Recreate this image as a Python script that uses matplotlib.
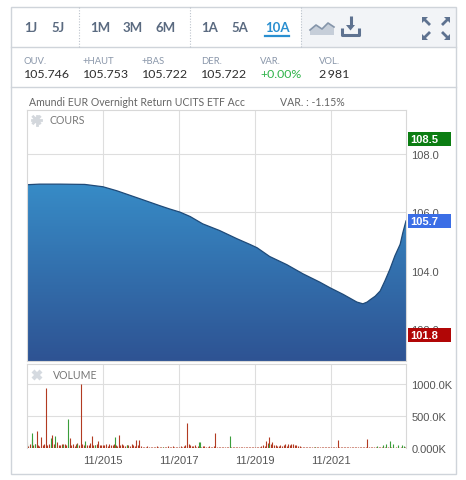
import matplotlib
matplotlib.use("Agg")
import matplotlib.pyplot as plt
import matplotlib.dates as mdates
from matplotlib.colors import LinearSegmentedColormap
from matplotlib.patches import Rectangle, Polygon
import numpy as np
import pandas as pd

W, H = 466, 481

# price curve
price_dates = ["2013-11-01", "2014-03-01", "2014-09-15", "2015-05-10", "2015-11-01",
               "2016-03-15", "2016-10-20", "2017-05-01", "2017-08-01", "2017-11-10",
               "2018-02-15", "2018-06-15", "2018-11-25", "2019-05-10", "2019-09-15",
               "2019-11-20", "2020-03-20", "2020-09-01", "2021-02-01", "2021-07-15",
               "2021-10-20", "2022-02-25", "2022-07-05", "2022-09-01", "2022-10-12",
               "2022-11-10", "2022-12-28", "2023-02-14", "2023-04-01", "2023-05-19",
               "2023-07-05", "2023-08-25", "2023-09-20", "2023-10-20"]
price_values = [106.94, 106.96, 106.96, 106.95, 106.87,
                106.73, 106.46, 106.22, 106.11, 106.00,
                105.85, 105.60, 105.37, 105.09, 104.89,
                104.78, 104.48, 104.20, 103.89, 103.60,
                103.41, 103.18, 102.92, 102.86, 102.92,
                103.00, 103.12, 103.30, 103.65, 104.05,
                104.50, 104.90, 105.30, 105.70]

# volume, in thousands: red bars twice a month from Nov 2013
vol_start = "2013-11-01"
vol_red = [45, 30, 55, 140, 40, 60, 265, 50, 30, 170, 45, 60, 940, 50, 70, 40, 200, 55, 35, 90, 50, 40, 70, 55,
           60, 40, 50, 150, 45, 70, 35, 55, 80, 40, 1000, 60, 45, 70, 50, 40, 85, 185, 50, 40, 60, 110, 50, 45,
           50, 40, 55, 35, 60, 45, 40, 70, 50, 35, 200, 45, 60, 40, 30, 50, 45, 35, 55, 40, 30, 125, 40, 125,
           25, 15, 20, 10, 30, 15, 20, 12, 8, 15, 25, 10, 12, 20, 8, 15, 10, 30, 12, 18, 25, 10, 15, 20,
           20, 30, 15, 25, 40, 390, 60, 45, 30, 25, 50, 20, 35, 15, 20, 30, 25, 15, 20, 30, 15, 20, 25, 240,
           15, 10, 20, 12, 15, 10, 8, 15, 12, 20, 10, 15, 8, 12, 10, 18, 8, 10, 12, 15, 10, 8, 12, 15,
           15, 20, 12, 18, 25, 40, 35, 110, 80, 170, 60, 90, 45, 50, 30, 25, 40, 30, 45, 55, 35, 60, 40, 55,
           60, 45, 50, 35, 25, 20, 15, 20, 12, 15, 10, 8, 12, 10, 15, 8, 10, 12, 8, 10, 15, 10, 12, 8,
           10, 8, 12, 15, 125, 10, 8, 12, 10, 15, 8, 10, 12, 8, 10, 15, 12, 10, 8, 10, 12, 15, 10, 140,
           10, 8, 12, 10, 15, 8, 10, 12, 8, 10, 8, 10, 12, 8, 10, 8, 5, 8, 10, 5, 8, 6, 5, 8]
vol_green_dates = ["2013-11-05", "2013-12-18", "2014-01-20", "2014-06-15", "2014-07-25", "2014-10-10",
                   "2014-12-01", "2015-03-01", "2015-05-10", "2015-08-20", "2016-02-25", "2016-06-15",
                   "2017-06-01", "2018-05-15", "2018-05-25", "2019-03-05", "2020-03-10", "2021-06-01",
                   "2023-01-15", "2023-03-10", "2023-04-10", "2023-05-20", "2023-06-20", "2023-08-01",
                   "2023-09-10", "2023-10-05"]
vol_green = [95, 235, 60, 155, 185, 50, 450, 60, 110, 50, 170, 50,
             20, 90, 95, 190, 60, 15, 25, 45, 60, 110, 70, 45, 40, 30]

price_ticks = [102, 104, 106, 108]
vol_ticks = [0, 500, 1000]
vol_tick_labels = ["0.000K", "500.0K", "1000.0K"]
date_ticks = ["2015-11-01", "2017-11-01", "2019-11-01", "2021-11-01"]
date_tick_labels = ["11/2015", "11/2017", "11/2019", "11/2021"]
badges = [(108.5, "#0b7d12"), (105.7, "#3b6ee6"), (101.8, "#b10606")]

periods = [("1J", 31), ("5J", 58), ("1M", 100), ("3M", 133), ("6M", 166),
           ("1A", 210), ("5A", 240), ("10A", 277)]
stats = [("OUV.", "105.746", 24), ("+HAUT", "105.753", 83), ("+BAS", "105.722", 142),
         ("DER.", "105.722", 201), ("VAR.", "+0.00%", 260), ("VOL.", "2\u2009981", 319)]

title = "Amundi EUR Overnight Return UCITS ETF Acc"
var_text = "VAR. : -1.15%"

UI = ["Lato", "DejaVu Sans"]
AXF = ["Liberation Sans", "DejaVu Sans"]
ICON = "#5e7290"


def box(x0, y0, x1, y1):
    return [x0 / W, 1 - y1 / H, (x1 - x0) / W, (y1 - y0) / H]


def pixel_axes(z):
    a = fig.add_axes([0, 0, 1, 1], zorder=z)
    a.set_xlim(0, W)
    a.set_ylim(H, 0)
    a.axis("off")
    return a


fig = plt.figure(figsize=(W / 100, H / 100), dpi=100)

# page furniture drawn in pixel coordinates
ui = pixel_axes(0)

ui.add_patch(Rectangle((301, 8), 155, 40, facecolor="#f2f4f7", edgecolor="none"))
ui.add_patch(Rectangle((11, 8), 445, 467, facecolor="none", edgecolor="#cfd4da", lw=1))
ui.plot([11, 456], [48, 48], color="#cfd4da", lw=1)
ui.plot([11, 456], [88, 88], color="#cfd4da", lw=1)
for sx in [79, 190, 301]:
    ui.plot([sx, sx], [8, 48], color="#bcc3cc", lw=0.8, ls=(0, (1, 1.5)))

for lab, cx in periods:
    col = "#2a8fd0" if lab == "10A" else "#5a6a80"
    ui.text(cx, 28, lab, ha="center", va="center", fontsize=9.5, fontweight="bold",
            color=col, family=UI)
ui.plot([265, 289], [37, 37], color="#2a8fd0", lw=1.6)

# area chart icon
ui.add_patch(Polygon([(310, 36), (310, 31), (316, 26), (322, 30), (328, 24), (334, 28), (334, 36)],
                     closed=True, facecolor="#c6ced9", edgecolor="none"))
ui.plot([310, 316, 322, 328, 334], [31, 26, 30, 24, 28], color="#8595aa", lw=1.2)
# download icon
ui.plot([342, 342, 359, 359], [29, 36, 36, 29], color=ICON, lw=2.2, solid_capstyle="butt")
ui.plot([350.5, 350.5], [17, 27], color=ICON, lw=2.2, solid_capstyle="butt")
ui.add_patch(Polygon([(346, 26), (355, 26), (350.5, 31.5)], closed=True, facecolor=ICON, edgecolor="none"))
# expand icon: corner heads with short diagonal shafts
for cx, cy, dx, dy in [(422, 18, 1, 1), (450, 18, -1, 1), (422, 41, 1, -1), (450, 41, -1, -1)]:
    ui.add_patch(Polygon([(cx, cy), (cx + 6 * dx, cy), (cx, cy + 6 * dy)], closed=True,
                         facecolor=ICON, edgecolor="none"))
    ui.plot([cx + 2 * dx, cx + 8 * dx], [cy + 2 * dy, cy + 8 * dy], color=ICON, lw=2,
            solid_capstyle="butt")

for lab, val, x0 in stats:
    ui.text(x0, 61, lab, ha="left", va="center", fontsize=6.8, color="#8a97aa", family=UI)
    vcol = "#2fb34a" if lab == "VAR." else "#2e2e2e"
    ui.text(x0, 74, val, ha="left", va="center", fontsize=8.9, color=vcol, family=UI)

ui.text(29, 102, title, ha="left", va="center", fontsize=7.6, color="#666666", family=UI)
ui.text(280, 102, var_text, ha="left", va="center", fontsize=7.6, color="#666666", family=UI)

# price panel
ax = fig.add_axes(box(27, 111, 406, 362), zorder=1)
t = pd.to_datetime(price_dates)
xlo = mdates.date2num(pd.Timestamp("2013-11-01"))
xhi = mdates.date2num(pd.Timestamp("2023-10-20"))
ylo, yhi = 100.9, 109.5

cmap = LinearSegmentedColormap.from_list("fill", ["#3ba3dc", "#2e5393"])
fill = ax.fill_between(t, price_values, ylo, facecolor="none", edgecolor="none")
grad = ax.imshow(np.linspace(0, 1, 256).reshape(-1, 1), cmap=cmap, aspect="auto",
                 extent=[xlo, xhi, ylo, yhi], origin="upper", zorder=1.2)
grad.set_clip_path(fill.get_paths()[0], transform=ax.transData)
ax.plot(t, price_values, color="#1f4a78", lw=0.9, zorder=1.5)

ax.set_xlim(xlo, xhi)
ax.set_ylim(ylo, yhi)
ax.set_xticks(pd.to_datetime(date_ticks))
ax.set_yticks(price_ticks)
ax.set_yticklabels([f"{v:.1f}" for v in price_ticks])
ax.set_axisbelow(True)
ax.grid(color="#dedede", lw=0.8)
ax.yaxis.tick_right()
ax.tick_params(axis="x", length=0, labelbottom=False)
ax.tick_params(axis="y", length=0, pad=4, labelsize=8, labelcolor="#555555")
for lb in ax.get_yticklabels():
    lb.set_family(AXF)
for s in ax.spines.values():
    s.set_color("#d8d8d8")
    s.set_linewidth(0.8)

# last / high / low badges sit over the price scale, as on the site
ytr = ax.get_yaxis_transform()
for val, col in badges:
    ax.add_patch(Rectangle((1.005, val - 0.245), 0.114, 0.49, transform=ytr, facecolor=col,
                           edgecolor="none", clip_on=False, zorder=5))
    ax.text(1.012, val, f"{val:.1f}", transform=ytr, ha="left", va="center", fontsize=8,
            fontweight="bold", color="white", family=AXF, clip_on=False, zorder=6)

# panel captions with their icons
cap = pixel_axes(2)
gx, gy = 36.5, 121
for a in np.arange(0, 180, 45):
    r = np.radians(a)
    cap.plot([gx - 4.5 * np.cos(r), gx + 4.5 * np.cos(r)], [gy - 4.5 * np.sin(r), gy + 4.5 * np.sin(r)],
             color="#d3d7dc", lw=2)
cap.add_patch(plt.Circle((gx, gy), 3.2, facecolor="#d3d7dc", edgecolor="none"))
cap.add_patch(plt.Circle((gx, gy), 1.5, facecolor="white", edgecolor="none"))
cap.text(50, 121, "COURS", ha="left", va="center", fontsize=7.6, color="#777777", family=UI)
cap.plot([33, 41], [372, 380], color="#d5dae0", lw=3, solid_capstyle="butt")
cap.plot([33, 41], [380, 372], color="#d5dae0", lw=3, solid_capstyle="butt")
cap.text(53, 376, "VOLUME", ha="left", va="center", fontsize=7.6, color="#777777", family=UI)

# volume panel
av = fig.add_axes(box(27, 365, 406, 449), zorder=1)
red_dates = pd.date_range(vol_start, periods=len(vol_red), freq="SMS")
av.vlines(red_dates, 0, vol_red, color="#b23a22", lw=0.8)
av.vlines(pd.to_datetime(vol_green_dates), 0, vol_green, color="#3a9e3a", lw=0.8)
av.set_xlim(xlo, xhi)
av.set_ylim(0, 1312)
av.set_xticks(pd.to_datetime(date_ticks))
av.set_xticklabels(date_tick_labels)
av.set_yticks(vol_ticks)
av.set_yticklabels(vol_tick_labels)
av.set_axisbelow(True)
av.grid(color="#dedede", lw=0.8)
av.yaxis.tick_right()
av.tick_params(axis="both", length=0, labelsize=8, labelcolor="#555555")
av.tick_params(axis="x", pad=5)
av.tick_params(axis="y", pad=4)
for lb in av.get_xticklabels() + av.get_yticklabels():
    lb.set_family(AXF)
for s in av.spines.values():
    s.set_color("#d8d8d8")
    s.set_linewidth(0.8)
av.spines["bottom"].set_visible(False)

fig.savefig("out.png", dpi=100)
